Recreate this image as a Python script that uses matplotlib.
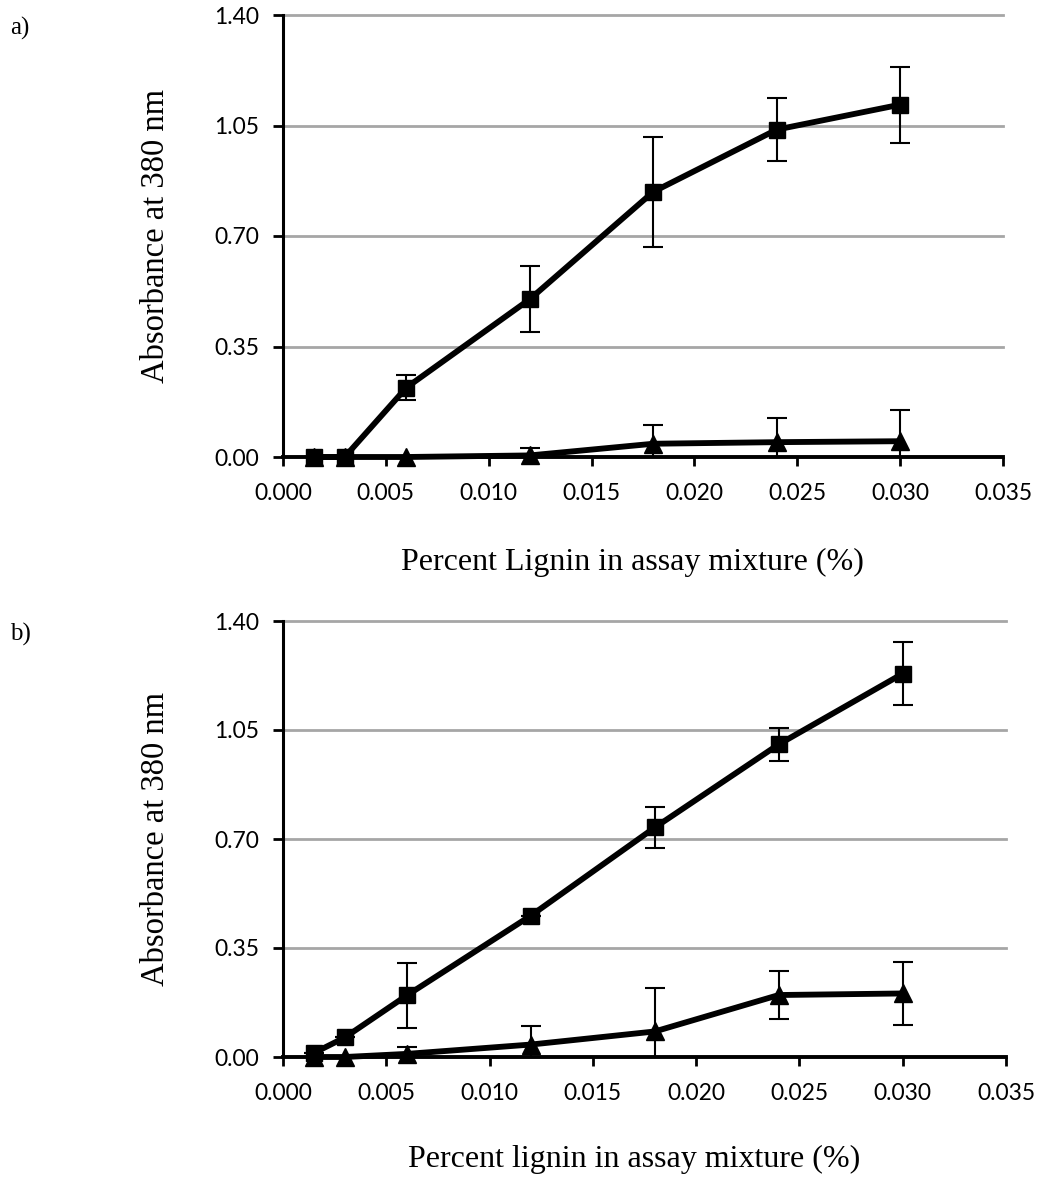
import matplotlib
matplotlib.use("Agg")
import matplotlib.pyplot as plt

# ---- data ----
x_a = [0.0015, 0.003, 0.006, 0.012, 0.018, 0.024, 0.030]
sq_a = [0.0, 0.0, 0.22, 0.50, 0.84, 1.037, 1.116]
sq_a_err = [0.0, 0.0, 0.04, 0.105, 0.175, 0.10, 0.12]
tri_a = [0.0, 0.0, 0.0, 0.005, 0.042, 0.047, 0.05]
tri_a_err = [0.0, 0.0, 0.0, 0.022, 0.06, 0.077, 0.10]

x_b = [0.0015, 0.003, 0.006, 0.012, 0.018, 0.024, 0.030]
sq_b = [0.013, 0.063, 0.198, 0.454, 0.737, 1.004, 1.231]
sq_b_err = [0.0, 0.0, 0.105, 0.0, 0.065, 0.053, 0.10]
tri_b = [0.0, 0.0, 0.01, 0.04, 0.082, 0.199, 0.204]
tri_b_err = [0.0, 0.0, 0.022, 0.06, 0.14, 0.077, 0.10]

x_ticks = [0.000, 0.005, 0.010, 0.015, 0.020, 0.025, 0.030, 0.035]
x_ticklabels = ["0.000", "0.005", "0.010", "0.015", "0.020", "0.025", "0.030", "0.035"]
y_ticks = [0.00, 0.35, 0.70, 1.05, 1.40]
y_ticklabels = ["0.00", "0.35", "0.70", "1.05", "1.40"]

ylabel = "Absorbance at 380 nm"
xlabel_a = "Percent Lignin in assay mixture (%)"
xlabel_b = "Percent lignin in assay mixture (%)"

W, H = 1037, 1177
fig = plt.figure(figsize=(W / 100, H / 100), dpi=100)

serif = ["Liberation Serif", "DejaVu Serif"]
sans = ["Lato", "DejaVu Sans"]


def make_axes(left, top, right, bottom):
    return fig.add_axes([left / W, 1 - bottom / H, (right - left) / W, (bottom - top) / H])


def draw(ax, x, sq, sqe, tri, trie, xlabel, xpad):
    ax.set_xlim(0, 0.035)
    ax.set_ylim(0, 1.40)
    ax.set_yticks(y_ticks)
    ax.set_yticklabels(y_ticklabels, fontsize=16.5, family=sans)
    ax.set_xticks(x_ticks)
    ax.set_xticklabels(x_ticklabels, fontsize=16.5, family=sans)
    for yv in y_ticks[1:]:
        ax.axhline(yv, color="#a6a6a6", lw=2.0, zorder=0, clip_on=False)
    ax.spines["top"].set_visible(False)
    ax.spines["right"].set_visible(False)
    ax.spines["left"].set_linewidth(2.2)
    ax.spines["bottom"].set_linewidth(2.8)
    ax.tick_params(axis="y", direction="out", width=2.0, length=7, color="black", pad=10)
    ax.tick_params(axis="x", direction="out", width=2.0, length=6.5, color="black", pad=12)

    ax.errorbar(x, tri, yerr=trie, color="black", lw=0, elinewidth=1.5,
                capsize=7, capthick=1.5, zorder=3)
    ax.errorbar(x, sq, yerr=sqe, color="black", lw=0, elinewidth=1.5,
                capsize=7, capthick=1.5, zorder=3)
    ax.plot(x, tri, color="black", lw=4.2, marker="^", markersize=12.5, zorder=4,
            clip_on=False)
    ax.plot(x, sq, color="black", lw=4.2, marker="s", markersize=12, zorder=5,
            clip_on=False)

    ax.set_ylabel(ylabel, fontsize=23.5, family=serif, labelpad=31)
    ax.set_xlabel(xlabel, fontsize=23, family=serif, labelpad=xpad)
    ax.xaxis.label.set_x(0.485)


ax_a = make_axes(283, 15, 1003, 457)
draw(ax_a, x_a, sq_a, sq_a_err, tri_a, tri_a_err, xlabel_a, 32)
ax_b = make_axes(283, 621, 1006, 1057)
draw(ax_b, x_b, sq_b, sq_b_err, tri_b, tri_b_err, xlabel_b, 30)

fig.text(10 / W, 1 - 28 / H, "a)", fontsize=18, family=serif, va="center", ha="left")
fig.text(10 / W, 1 - 634 / H, "b)", fontsize=18, family=serif, va="center", ha="left")

fig.savefig("out.png", dpi=100)
